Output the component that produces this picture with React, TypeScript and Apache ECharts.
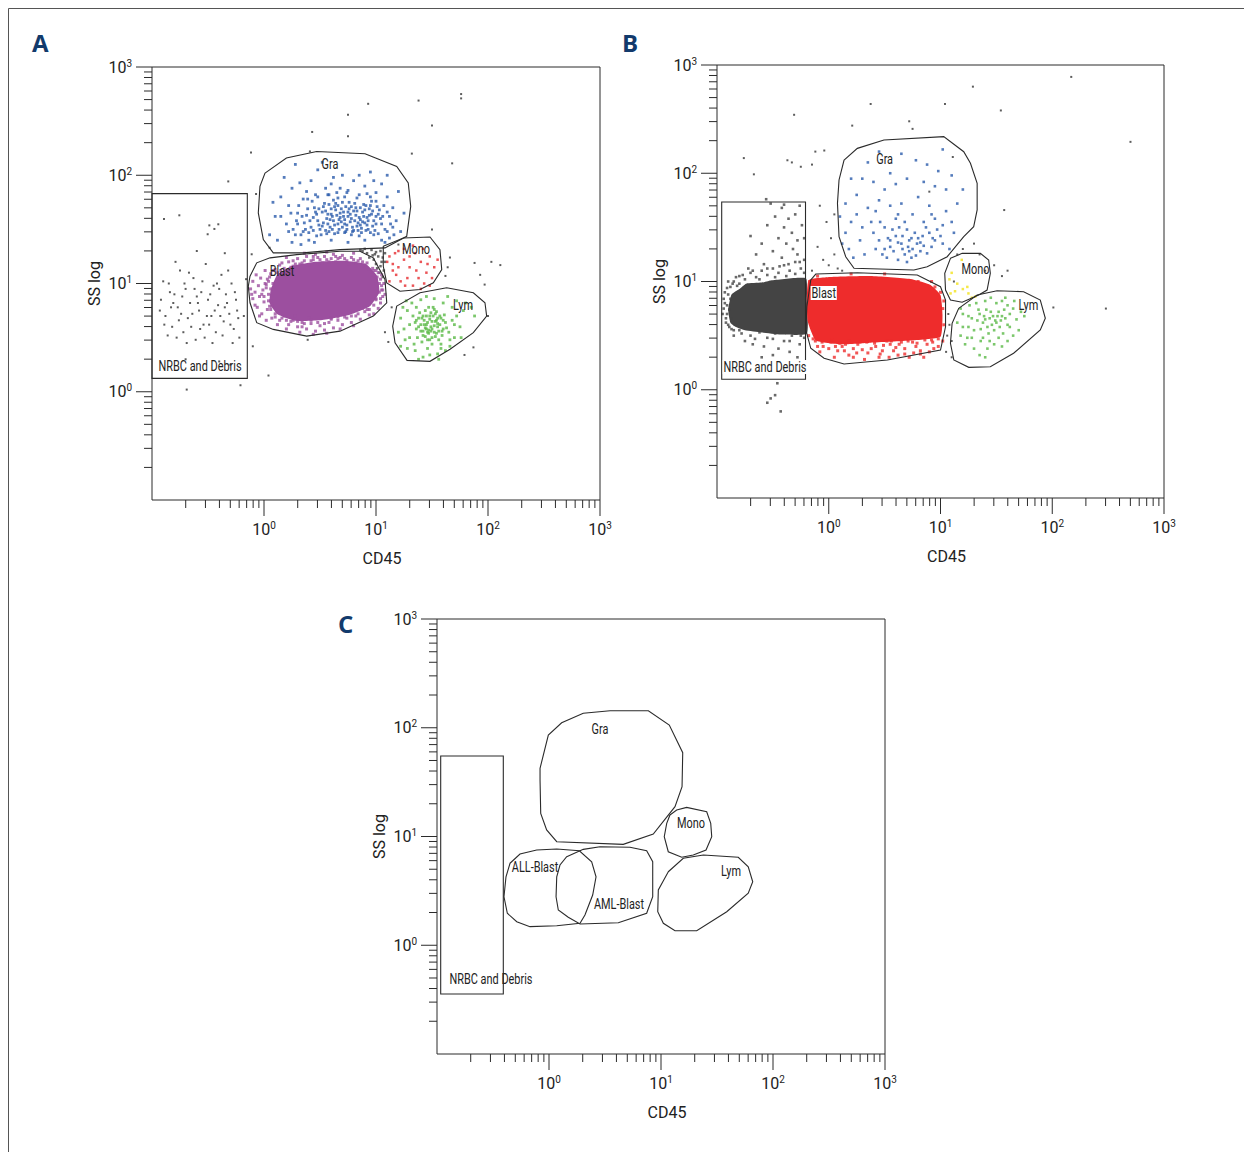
import React, { useEffect, useRef } from "react";
import * as echarts from "echarts";

const FONT = 'Roboto, "Liberation Sans", sans-serif';
const INK = "#2b2b2b";

const X_LABEL = "CD45";
const Y_LABEL = "SS log";
const PANEL_LETTERS = ["A", "B", "C"];
const AXIS_MIN = 0.1;
const AXIS_MAX = 1000;
const MAJOR_TICKS = [1, 10, 100, 1000];
const MINOR_TICKS = [0.2, 0.3, 0.4, 0.5, 0.6, 0.7, 0.8, 0.9, 2, 3, 4, 5, 6, 7, 8, 9, 20, 30, 40, 50, 60, 70, 80, 90, 200, 300, 400, 500, 600, 700, 800, 900];

// All coordinates below are log10(CD45), log10(SS) pairs.
// ---------- Panel A gates ----------
const A_GRA = [0.009,2.02, 0.20,2.16, 0.47,2.219, 0.902,2.198, 1.185,2.081, 1.288,1.928, 1.31,1.712, 1.274,1.436, 1.08,1.329, 0.857,1.32, 0.679,1.313, 0.348,1.283, 0.083,1.283, -0.006,1.406, -0.051,1.652, -0.036,1.897];
const A_BLAST = [-0.125,1.067, -0.065,1.191, 0.054,1.237, 0.292,1.267, 0.679,1.298, 0.857,1.298, 0.976,1.237, 1.08,1.037, 1.096,0.822, 0.976,0.699, 0.679,0.56, 0.381,0.514, 0.083,0.576, -0.065,0.638, -0.125,0.822, -0.14,0.975];
const A_MONO = [1.065,1.344, 1.244,1.421, 1.482,1.43, 1.571,1.313, 1.587,1.129, 1.512,1.006, 1.393,0.945, 1.214,0.929, 1.096,1.006, 1.065,1.159];
const A_LYM = [1.185,0.791, 1.393,0.914, 1.631,0.96, 1.869,0.914, 1.973,0.822, 1.988,0.699, 1.869,0.546, 1.661,0.392, 1.482,0.281, 1.277,0.29, 1.17,0.453, 1.149,0.606];
const A_NRBC = [-1,1.83, -0.149,1.83, -0.149,0.124, -1,0.124];

// ---------- Panel B gates ----------
const B_GRA = [0.137,2.122, 0.256,2.23, 0.494,2.307, 1.029,2.338, 1.208,2.199, 1.268,2.092, 1.328,1.907, 1.328,1.661, 1.297,1.506, 1.208,1.414, 1.06,1.229, 0.881,1.137, 0.762,1.106, 0.226,1.122, 0.152,1.229, 0.092,1.414, 0.078,1.722, 0.092,1.938];
const B_BLAST = [-0.116,1.069, 0.256,1.081, 0.792,1.06, 1.0,0.952, 1.045,0.829, 1.045,0.582, 1.0,0.367, 0.524,0.275, 0.137,0.238, -0.042,0.291, -0.161,0.383, -0.205,0.552, -0.196,0.767, -0.161,1.014];
const B_MONO = [1.089,1.214, 1.194,1.26, 1.357,1.26, 1.431,1.199, 1.446,1.076, 1.417,0.921, 1.342,0.875, 1.194,0.808, 1.089,0.829, 1.045,0.921, 1.038,1.076];
const B_LYM = [1.163,0.752, 1.328,0.875, 1.506,0.915, 1.744,0.906, 1.893,0.829, 1.938,0.66, 1.893,0.552, 1.654,0.337, 1.446,0.213, 1.253,0.207, 1.119,0.275, 1.089,0.429, 1.104,0.614];
const B_NRBC = [-0.958,1.734, -0.208,1.734, -0.208,0.097, -0.958,0.097];

// ---------- Panel C gates ----------
const C_GRA = [-0.08,1.627, -0.006,1.933, 0.113,2.046, 0.306,2.133, 0.545,2.157, 0.887,2.157, 1.074,2.025, 1.194,1.771, 1.188,1.458, 1.125,1.274, 0.931,1.023, 0.663,0.928, 0.069,0.952, -0.021,1.06, -0.074,1.213, -0.08,1.52];
const C_MONO = [1.08,1.198, 1.14,1.244, 1.229,1.268, 1.408,1.228, 1.444,1.121, 1.453,0.998, 1.402,0.876, 1.288,0.83, 1.185,0.809, 1.065,0.86, 1.029,0.998, 1.051,1.121];
const C_LYM = [1.065,0.676, 1.199,0.8, 1.378,0.83, 1.69,0.809, 1.779,0.722, 1.819,0.584, 1.779,0.478, 1.587,0.308, 1.319,0.134, 1.125,0.134, 1.021,0.202, 0.971,0.308, 0.976,0.508];
const C_ALL = [-0.348,0.754, -0.259,0.839, -0.11,0.876, 0.069,0.885, 0.271,0.869, 0.381,0.768, 0.42,0.63, 0.39,0.462, 0.321,0.278, 0.277,0.202, 0.069,0.18, -0.17,0.171, -0.288,0.217, -0.372,0.294, -0.402,0.446, -0.384,0.63];
const C_AML = [0.158,0.814, 0.306,0.882, 0.455,0.906, 0.723,0.901, 0.872,0.869, 0.926,0.768, 0.926,0.446, 0.872,0.294, 0.619,0.207, 0.277,0.195, 0.172,0.257, 0.083,0.324, 0.063,0.446, 0.069,0.63, 0.098,0.738];
const C_NRBC = [-0.967,1.74, -0.408,1.74, -0.408,-0.448, -0.967,-0.448];

// ---------- Gate labels: text, log x, log y, boxed ----------
const A_LABELS: [string, number, number, number][] = [["Gra", 0.589, 2.106, 0], ["Blast", 0.161, 1.12, 0], ["Mono", 1.357, 1.323, 0], ["Lym", 1.777, 0.806, 0], ["NRBC and Debris", -0.571, 0.235, 0]];
const B_LABELS: [string, number, number, number][] = [["Gra", 0.5, 2.132, 0], ["Blast", -0.045, 0.894, 1], ["Mono", 1.3125, 1.115, 0], ["Lym", 1.786, 0.783, 0], ["NRBC and Debris", -0.571, 0.21, 1]];
const C_LABELS: [string, number, number, number][] = [["Gra", 0.455, 1.989, 0], ["Mono", 1.268, 1.124, 0], ["Lym", 1.625, 0.683, 0], ["ALL-Blast", -0.125, 0.72, 0], ["AML-Blast", 0.625, 0.379, 0], ["NRBC and Debris", -0.518, -0.31, 0]];

// ---------- Dense population cores ----------
const A_BLAST_CORE = [0.06,0.94, 0.12,1.085, 0.245,1.16, 0.46,1.2, 0.72,1.21, 0.91,1.18, 1.01,1.07, 1.03,0.92, 0.945,0.79, 0.76,0.71, 0.5,0.66, 0.28,0.655, 0.12,0.715, 0.05,0.82];
const B_BLAST_CORE = [-0.179,1.014, 0.018,1.042, 0.375,1.051, 0.732,1.023, 0.911,0.968, 1.0,0.875, 1.018,0.69, 1.0,0.49, 0.732,0.455, 0.375,0.435, 0.107,0.42, -0.116,0.455, -0.188,0.63, -0.196,0.829];
const B_NRBC_CORE = [-0.9,0.74, -0.87,0.88, -0.8,0.93, -0.74,0.98, -0.6,0.99, -0.518,1.01, -0.205,1.03, -0.196,0.829, -0.196,0.52, -0.429,0.51, -0.6,0.53, -0.75,0.55, -0.83,0.58, -0.88,0.62];

// ---------- Events, panel A ----------
const A_GRA_EVENTS = [0.42,1.52, 0.48,1.58, 0.55,1.49, 0.61,1.62, 0.66,1.55, 0.72,1.47, 0.78,1.6, 0.83,1.53, 0.88,1.66, 0.93,1.5, 0.98,1.58, 1.02,1.46, 0.38,1.63, 0.45,1.7, 0.52,1.66, 0.58,1.73, 0.64,1.68, 0.7,1.75, 0.76,1.69, 0.81,1.74, 0.86,1.59, 0.91,1.72, 0.96,1.64, 1.05,1.55, 0.4,1.47, 0.47,1.44, 0.53,1.56, 0.59,1.52, 0.63,1.46, 0.68,1.61, 0.74,1.54, 0.79,1.48, 0.85,1.44, 0.9,1.56, 0.95,1.47, 1.0,1.62, 0.36,1.56, 0.44,1.61, 0.5,1.5, 0.57,1.64, 0.62,1.58, 0.67,1.5, 0.71,1.66, 0.77,1.57, 0.82,1.63, 0.87,1.51, 0.92,1.61, 0.97,1.53, 1.03,1.68, 0.43,1.76, 0.49,1.54, 0.56,1.6, 0.6,1.69, 0.65,1.63, 0.69,1.57, 0.73,1.71, 0.8,1.67, 0.84,1.56, 0.89,1.62, 0.94,1.69, 0.99,1.49, 1.04,1.6, 0.46,1.66, 0.54,1.74, 0.62,1.77, 0.7,1.52, 0.75,1.62, 0.78,1.45, 0.86,1.7, 0.92,1.54, 0.96,1.76, 0.51,1.45, 0.58,1.48, 0.66,1.72, 0.72,1.59, 0.84,1.49, 0.88,1.57, 1.01,1.71, 0.39,1.69, 0.55,1.67, 0.74,1.5, 0.81,1.58, 0.63,1.54, 0.68,1.65, 0.77,1.64, 0.59,1.59,
  0.41,1.58, 0.47,1.64, 0.53,1.71, 0.57,1.55, 0.61,1.5, 0.64,1.74, 0.67,1.59, 0.71,1.62, 0.73,1.48, 0.76,1.75, 0.79,1.52, 0.82,1.7, 0.85,1.61, 0.87,1.47, 0.9,1.68, 0.93,1.58, 0.95,1.72, 0.98,1.45, 1.0,1.55, 1.02,1.64, 0.44,1.49, 0.49,1.69, 0.52,1.53, 0.56,1.46, 0.6,1.64, 0.63,1.71, 0.66,1.47, 0.69,1.69, 0.72,1.55, 0.75,1.66, 0.78,1.71, 0.8,1.49, 0.83,1.67, 0.86,1.54, 0.89,1.73, 0.91,1.49, 0.94,1.63, 0.97,1.67, 1.06,1.62, 1.08,1.5, 0.37,1.5, 0.34,1.62, 0.31,1.72, 0.29,1.58, 0.26,1.5, 0.24,1.65, 0.33,1.45, 0.39,1.78, 0.48,1.8, 0.57,1.82, 0.66,1.79, 0.74,1.84, 0.83,1.79, 0.92,1.83, 1.0,1.76, 1.07,1.72, 1.1,1.66, 1.13,1.55, 1.16,1.45, 1.1,1.48,
  0.05,1.45, 0.1,1.62, 0.15,1.8, 0.12,1.4, 0.2,1.55, 0.22,1.72, 0.25,1.88, 0.28,1.45, 0.3,1.65, 0.32,1.93, 0.18,1.98, 0.35,1.78, 0.38,1.85, 0.42,1.95, 0.48,2.05, 0.55,1.88, 0.6,1.92, 0.65,1.84, 0.7,2.0, 0.75,1.86, 0.8,1.95, 0.85,1.82, 0.9,1.9, 0.95,2.03, 1.0,1.84, 1.05,1.92, 1.1,1.8, 1.15,1.7, 1.18,1.58, 1.22,1.48, 1.2,1.85, 1.25,1.65, 1.12,1.42, 1.08,1.38, 1.15,1.52, 0.25,1.38, 0.33,1.36, 0.45,1.38, 0.6,1.4, 0.75,1.38, 0.9,1.4, 1.05,1.4, 0.08,1.75, 0.28,2.1, 0.52,2.12, 0.62,1.98, 0.85,2.0, 1.1,2.0, 0.4,1.4, 0.58,1.82, 0.72,1.8, 0.95,1.8, 1.12,1.62, 0.3,1.55, 0.22,1.48, 0.35,1.48, 0.15,1.62, 0.98,1.95, 0.68,1.88, 0.46,1.82];
const A_BLAST_EVENTS = [-0.12,0.95, -0.1,1.02, -0.1,0.86, -0.08,0.92, -0.07,1.08, -0.06,0.78, -0.05,0.98, -0.04,0.88, -0.03,1.05, -0.02,0.72, -0.01,0.94, 0.0,0.83, 0.01,1.12, 0.02,0.99, 0.03,0.76, 0.04,0.9, 0.05,1.06, 0.06,0.84, 0.07,0.68, 0.08,1.0, 0.02,0.66, -0.08,0.8, 0.06,0.95, 0.08,1.12, -0.11,0.9, 0.04,1.02, 0.07,0.79, -0.04,0.7,
  0.1,1.13, 0.14,1.17, 0.18,1.14, 0.22,1.2, 0.26,1.16, 0.3,1.23, 0.34,1.19, 0.38,1.25, 0.42,1.21, 0.46,1.27, 0.5,1.22, 0.54,1.25, 0.58,1.2, 0.62,1.27, 0.66,1.23, 0.7,1.26, 0.74,1.21, 0.78,1.24, 0.82,1.19, 0.86,1.23, 0.9,1.17, 0.94,1.13, 0.28,1.18, 0.4,1.17, 0.52,1.19, 0.64,1.2, 0.76,1.18, 0.88,1.2, 0.36,1.28, 0.56,1.29, 0.8,1.28, 0.2,1.24,
  0.15,1.12, 0.24,1.15, 0.32,1.18, 0.44,1.22, 0.6,1.23, 0.68,1.24, 0.84,1.21, 0.92,1.19, 0.97,1.14, 0.48,1.24, 0.72,1.23, 0.12,1.1, 0.36,1.21, 0.56,1.22, 0.8,1.22, 0.26,1.21, 0.64,1.25, 0.44,1.25, 0.16,1.19, 0.88,1.16,
  0.98,1.12, 1.01,1.06, 1.03,1.0, 1.05,0.94, 1.06,0.88, 1.04,0.82, 1.02,0.77, 0.98,0.72, 1.07,1.0, 1.08,0.9, 0.96,1.08, 1.0,0.85, 1.03,0.92, 0.94,0.76, 1.05,1.08, 1.04,1.04, 1.05,0.98, 1.06,0.94, 1.02,1.1, 1.04,0.86, 1.0,1.12,
  0.1,0.72, 0.14,0.66, 0.18,0.7, 0.22,0.62, 0.26,0.66, 0.3,0.6, 0.34,0.64, 0.38,0.58, 0.42,0.63, 0.46,0.56, 0.5,0.61, 0.54,0.57, 0.58,0.64, 0.62,0.59, 0.66,0.66, 0.7,0.62, 0.74,0.68, 0.78,0.64, 0.82,0.7, 0.86,0.67, 0.9,0.74, 0.94,0.71, 0.2,0.58, 0.32,0.55, 0.44,0.53, 0.56,0.54, 0.68,0.58, 0.8,0.61, 0.12,0.62, 0.4,0.68, 0.6,0.68, 0.28,0.7,
  0.16,0.68, 0.24,0.65, 0.36,0.63, 0.48,0.64, 0.6,0.67, 0.72,0.69, 0.84,0.72, 0.92,0.76, 0.3,0.65, 0.54,0.63, 0.66,0.69, 0.78,0.7, 0.42,0.66, 0.2,0.66, 0.88,0.77, 0.98,0.8, 1.0,0.86, 0.06,0.76, 0.1,0.69, 0.34,0.6,
  0.0,0.88, 0.02,0.96, 0.04,0.84, 0.03,1.04, 0.06,1.09, 0.05,0.79, -0.02,0.9, 0.01,1.0];
const A_MONO_EVENTS = [1.12,1.25, 1.15,1.18, 1.2,1.3, 1.25,1.22, 1.3,1.15, 1.35,1.28, 1.4,1.2, 1.45,1.1, 1.48,1.25, 1.18,1.08, 1.22,1.02, 1.28,1.05, 1.33,0.98, 1.38,1.05, 1.43,1.0, 1.5,1.05, 1.15,1.12, 1.25,1.32, 1.42,1.32, 1.52,1.15, 1.1,1.2, 1.2,1.15, 1.3,1.25, 1.36,1.12, 1.46,1.18, 1.26,0.98, 1.4,0.95, 1.12,1.02, 1.33,1.35, 1.48,0.98, 1.17,1.28, 1.55,1.22];
const A_LYM_EVENTS = [1.4,0.62, 1.45,0.58, 1.5,0.65, 1.55,0.6, 1.48,0.7, 1.42,0.52, 1.52,0.55, 1.58,0.68, 1.38,0.68, 1.46,0.64, 1.53,0.72, 1.6,0.58, 1.44,0.75, 1.5,0.5, 1.36,0.58, 1.56,0.48, 1.62,0.64, 1.41,0.46, 1.49,0.6, 1.54,0.66, 1.47,0.54, 1.57,0.62, 1.39,0.73, 1.51,0.78, 1.43,0.66, 1.59,0.52, 1.35,0.64, 1.46,0.48, 1.61,0.71, 1.48,0.67, 1.52,0.61, 1.44,0.59, 1.56,0.56, 1.4,0.56, 1.54,0.74, 1.58,0.44, 1.42,0.7, 1.5,0.44, 1.47,0.78, 1.63,0.59, 1.37,0.5, 1.53,0.51, 1.45,0.7, 1.55,0.68, 1.49,0.56,
  1.43,0.62, 1.47,0.57, 1.51,0.7, 1.55,0.63, 1.59,0.56, 1.38,0.6, 1.44,0.51, 1.53,0.65, 1.49,0.73, 1.57,0.7, 1.41,0.68, 1.46,0.55, 1.5,0.58, 1.54,0.54, 1.45,0.62, 1.6,0.66, 1.36,0.66, 1.48,0.48, 1.52,0.76, 1.42,0.56,
  1.22,0.68, 1.25,0.58, 1.28,0.75, 1.3,0.5, 1.32,0.82, 1.28,0.4, 1.35,0.38, 1.4,0.85, 1.45,0.88, 1.52,0.86, 1.6,0.82, 1.68,0.78, 1.72,0.7, 1.75,0.6, 1.7,0.5, 1.66,0.42, 1.62,0.38, 1.55,0.35, 1.48,0.34, 1.42,0.32, 1.34,0.44, 1.26,0.48, 1.2,0.55, 1.24,0.78, 1.65,0.55, 1.68,0.66, 1.78,0.75, 1.8,0.82, 1.64,0.88, 1.58,0.4, 1.38,0.3, 1.3,0.62, 1.33,0.7, 1.66,0.48, 1.72,0.84, 1.85,0.78, 1.88,0.7, 1.76,0.5, 1.22,0.42, 1.27,0.84, 1.56,0.3, 1.46,0.4, 1.36,0.78, 1.7,0.62];
const A_NRBC_EVENTS = [-0.92,0.85, -0.88,0.7, -0.85,1.0, -0.82,0.6, -0.8,0.9, -0.77,0.78, -0.75,1.12, -0.72,0.55, -0.7,0.95, -0.68,0.68, -0.66,0.82, -0.63,1.05, -0.61,0.48, -0.58,0.75, -0.56,0.92, -0.54,0.62, -0.52,1.18, -0.5,0.85, -0.47,0.7, -0.45,0.98, -0.43,0.55, -0.41,0.8, -0.38,1.08, -0.36,0.65, -0.34,0.9, -0.31,0.72, -0.29,1.0, -0.27,0.58, -0.25,0.85, -0.23,0.68, -0.9,1.02, -0.86,0.52, -0.83,0.78, -0.79,1.2, -0.76,0.66, -0.73,0.88, -0.69,0.45, -0.67,1.1, -0.64,0.72, -0.6,0.88, -0.57,0.58, -0.55,1.02, -0.51,0.7, -0.48,0.9, -0.46,0.45, -0.44,0.75, -0.4,0.95, -0.37,0.52, -0.35,0.78, -0.32,1.12, -0.3,0.62, -0.26,0.92, -0.24,0.75, -0.22,0.5, -0.89,0.62, -0.84,0.92, -0.78,0.5, -0.74,0.72, -0.71,1.0, -0.65,0.6, -0.62,0.95, -0.59,0.82, -0.53,0.5, -0.49,0.62, -0.42,1.0, -0.39,0.7, -0.33,0.82, -0.28,0.45, -0.93,0.75, -0.81,0.82,
  -0.893,1.596, -0.756,1.63, -0.488,1.537, -0.443,1.504, -0.408,1.547, -0.503,1.455, -0.6,1.3, -0.35,1.28, -0.7,0.3, -0.4,0.28, -0.3,0.25];
const A_MIXED_EVENTS = [0.88,1.3, 0.92,1.28, 0.96,1.31, 1.0,1.29, 1.04,1.3, 0.94,1.24, 0.98,1.22, 1.02,1.25, 1.06,1.24, 1.0,1.18, 1.04,1.16, 1.08,1.2, 1.03,1.1, 1.07,1.12, 0.9,1.32, 0.97,1.26, 1.05,1.2, 1.01,1.14, 1.06,1.06, 0.99,1.27, 0.86,1.31, 1.08,1.28];
const A_STRAY_EVENTS = [0.75,2.56, 0.93,2.66, 1.38,2.69, 1.76,2.75, 1.76,2.71, 1.5,2.46, 0.43,2.4, 0.75,2.36, -0.116,2.21, -0.319,1.943, -0.071,1.827, 1.68,2.11, 0.41,2.22, 1.32,2.2, 1.5,1.5, 1.66,1.24, 1.64,1.15, 1.93,1.08, 1.97,0.99, 1.88,1.19, 2.03,1.2, 2.11,1.17, -0.1,0.42, 0.39,0.48, 1.11,0.46, -0.11,1.27, -0.16,1.04, 1.87,0.41, 1.79,0.34, 2.0,0.7, 1.08,0.55, -0.69,0.02, -0.21,0.06, 0.04,0.15, 1.2,1.36, 1.14,0.78, 1.62,1.07, 0.05,1.33, -0.18,0.7];

// ---------- Events, panel B ----------
const B_NRBC_EVENTS = [-0.93,0.8, -0.91,0.7, -0.9,0.88, -0.92,0.62, -0.88,0.95, -0.89,0.58, -0.94,0.75, -0.87,0.66,
  -0.95,0.7, -0.93,0.9, -0.91,0.78, -0.9,0.6, -0.88,0.84, -0.86,0.98, -0.92,0.66, -0.89,0.74, -0.87,0.56, -0.84,0.6, -0.82,0.96, -0.94,0.84, -0.91,0.94, -0.85,0.5, -0.8,0.98, -0.9,1.0, -0.83,1.04, -0.77,1.06, -0.68,1.1, -0.55,1.12, -0.44,1.14, -0.36,1.16, -0.26,1.18, -0.22,1.08, -0.3,1.07, -0.5,0.47, -0.35,0.45, -0.25,0.5, -0.66,0.47, -0.8,0.55,
  -0.85,1.0, -0.8,1.05, -0.75,1.02, -0.7,1.08, -0.65,1.04, -0.6,1.1, -0.55,1.06, -0.5,1.12, -0.45,1.08, -0.4,1.15, -0.35,1.1, -0.3,1.18, -0.25,1.12, -0.22,1.2, -0.72,1.12, -0.58,1.16, -0.42,1.22, -0.28,1.25, -0.62,1.02, -0.48,1.04, -0.38,1.05, -0.32,1.3,
  -0.6,1.35, -0.5,1.28, -0.45,1.4, -0.38,1.35, -0.33,1.45, -0.28,1.38, -0.24,1.52, -0.36,1.58, -0.3,1.62, -0.42,1.68, -0.26,1.7, -0.55,1.52, -0.48,1.6, -0.22,1.4, -0.7,1.42, -0.65,1.25, -0.4,1.5, -0.56,1.76, -0.4,1.71, -0.52,1.72,
  -0.85,0.55, -0.78,0.52, -0.7,0.5, -0.62,0.53, -0.55,0.48, -0.48,0.52, -0.4,0.45, -0.33,0.5, -0.26,0.42, -0.22,0.48, -0.75,0.45, -0.58,0.4, -0.45,0.38, -0.35,0.35, -0.28,0.3, -0.68,0.42, -0.5,0.32, -0.38,0.25, -0.3,0.2, -0.6,0.3,
  -0.52,-0.08, -0.43,-0.2, -0.46,0.06, -0.55,-0.12, -0.48,-0.05];
const B_BLAST_EVENTS = [-0.12,0.45, -0.05,0.4, 0.02,0.44, 0.08,0.36, 0.15,0.42, 0.22,0.38, 0.28,0.44, 0.35,0.34, 0.42,0.4, 0.48,0.36, 0.55,0.42, 0.62,0.32, 0.68,0.38, 0.75,0.44, 0.82,0.36, 0.88,0.42, 0.94,0.38, 0.05,0.3, 0.18,0.32, 0.32,0.28, 0.45,0.3, 0.58,0.36, 0.72,0.3, 0.85,0.3, -0.08,0.35, 0.12,0.4, 0.38,0.38, 0.52,0.45, 0.65,0.44, 0.78,0.4, 0.25,0.34, 0.92,0.46, 0.0,0.38,
  -0.14,0.47, -0.06,0.44, 0.03,0.46, 0.1,0.43, 0.18,0.45, 0.26,0.42, 0.34,0.44, 0.41,0.43, 0.49,0.41, 0.56,0.45, 0.63,0.42, 0.71,0.45, 0.79,0.43, 0.86,0.46, 0.93,0.44, 0.98,0.47, 0.14,0.36, 0.3,0.37, 0.46,0.33, 0.6,0.39, 0.76,0.34, 0.9,0.35, -0.1,0.4, 0.06,0.4, 0.22,0.3, 0.54,0.3, 0.68,0.33, 0.82,0.33,
  0.95,0.95, 1.0,0.9, 1.02,0.75, 1.03,0.6, 1.02,0.45, 0.98,0.4, 0.8,1.0, 0.5,1.07, 0.2,1.07, -0.1,1.05, 1.03,0.82, 0.92,1.0, -0.17,1.0, -0.18,0.5];
const B_GRA_EVENTS = [0.4,1.45, 0.45,1.38, 0.5,1.5, 0.55,1.32, 0.6,1.42, 0.65,1.35, 0.7,1.48, 0.75,1.3, 0.8,1.4, 0.85,1.33, 0.9,1.45, 0.95,1.38, 1.0,1.42, 0.42,1.3, 0.48,1.25, 0.53,1.4, 0.58,1.28, 0.63,1.5, 0.68,1.25, 0.72,1.38, 0.77,1.45, 0.82,1.28, 0.87,1.5, 0.92,1.32, 0.97,1.48, 1.02,1.35, 0.46,1.55, 0.52,1.22, 0.57,1.48, 0.62,1.36, 0.66,1.42, 0.71,1.32, 0.74,1.22, 0.79,1.35, 0.84,1.42, 0.88,1.26, 0.93,1.4, 0.62,1.2, 0.7,1.18, 0.78,1.24, 0.66,1.3, 0.74,1.4, 0.82,1.36, 0.55,1.38, 0.6,1.58, 0.68,1.55, 0.85,1.55, 0.95,1.58, 0.5,1.3, 0.72,1.28,
  0.15,1.45, 0.12,1.35, 0.2,1.55, 0.18,1.3, 0.25,1.62, 0.28,1.38, 0.3,1.5, 0.35,1.68, 0.38,1.55, 0.32,1.25, 0.22,1.22, 0.45,1.75, 0.55,1.7, 0.65,1.72, 0.75,1.62, 0.8,1.78, 0.9,1.7, 1.05,1.65, 1.1,1.55, 1.12,1.45, 1.08,1.3, 1.15,1.72, 1.05,1.85, 0.95,1.88, 0.6,1.9, 0.5,1.85, 0.4,1.92, 0.7,1.95, 0.85,1.92, 0.98,2.02, 0.55,2.0, 0.88,2.08, 0.35,2.1, 0.65,2.18, 0.45,2.2, 1.02,2.22, 1.1,1.98, 0.25,1.8, 0.15,1.72, 0.1,1.6, 0.3,1.95, 0.78,2.12, 0.2,1.95, 1.2,1.85, 0.42,1.65, 0.62,1.62, 0.92,1.62, 1.02,1.52];
const B_MONO_EVENTS = [1.1,1.08, 1.19,1.2, 1.25,0.89, 1.13,0.91, 1.24,0.95, 1.28,0.85, 1.31,0.86, 1.09,0.89, 1.15,0.98, 1.2,0.93, 1.08,1.02];
const B_LYM_EVENTS = [1.35,0.7, 1.4,0.65, 1.45,0.72, 1.5,0.62, 1.55,0.68, 1.6,0.6, 1.42,0.58, 1.48,0.55, 1.38,0.62, 1.52,0.72, 1.58,0.66, 1.44,0.66, 1.62,0.7, 1.36,0.56, 1.47,0.68, 1.53,0.58, 1.41,0.74, 1.56,0.52, 1.49,0.64, 1.39,0.68, 1.46,0.6, 1.54,0.64, 1.43,0.52, 1.51,0.68, 1.57,0.74, 1.33,0.64,
  1.15,0.62, 1.18,0.5, 1.2,0.7, 1.22,0.42, 1.25,0.58, 1.26,0.78, 1.28,0.48, 1.3,0.38, 1.32,0.8, 1.25,0.68, 1.36,0.45, 1.4,0.82, 1.45,0.85, 1.5,0.8, 1.55,0.82, 1.6,0.78, 1.65,0.75, 1.68,0.65, 1.7,0.55, 1.65,0.5, 1.6,0.45, 1.55,0.4, 1.48,0.42, 1.42,0.38, 1.35,0.32, 1.3,0.55, 1.2,0.58, 1.72,0.72, 1.38,0.48, 1.62,0.58, 1.52,0.48, 1.44,0.45, 1.28,0.66, 1.18,0.75, 1.34,0.74, 1.66,0.82, 1.24,0.48, 1.58,0.85, 1.75,0.68, 1.4,0.3];
const B_STRAY_EVENTS = [-0.76,2.14, -0.67,1.99, -0.31,2.54, -0.37,2.12, -0.33,2.1, -0.25,2.06, -0.15,2.08, -0.12,2.2, 0.21,2.44, 0.375,2.64, 0.72,2.48, 0.75,2.41, 1.04,2.64, 1.29,2.8, 1.54,2.58, 2.17,2.89, 2.7,2.29, 1.57,1.66, 2.01,0.76, 2.48,0.75, 0.9,1.83, 1.11,2.15, -0.04,2.21,
  -0.05,1.2, 0.0,1.15, 0.05,1.25, -0.1,1.32, 0.02,1.4, -0.15,1.1, 0.08,1.12, 0.12,1.1, -0.02,1.55, 0.05,1.62, -0.08,1.7, 1.08,0.6, 1.06,0.5, 1.1,0.45, 1.07,0.7, 1.12,1.0, 1.15,1.25, 1.3,1.35, 1.4,1.1, 1.48,1.15, 1.05,0.35, 1.1,0.3, 1.2,1.3, 1.35,1.25, 1.55,1.05, 1.6,1.1];

// ---------- colours ----------
const C_PURPLE = "#9c4f9f";
const C_BLUE = "#2b5bab";
const C_RED_A = "#e62a2e";
const C_RED_B = "#ee2c2c";
const C_GREEN = "#5ab946";
const C_YELLOW = "#f2e21a";
const C_DARK = "#444444";
const C_STRAY = "#333333";

const toPts = (flat: number[]) => {
  const out: number[][] = [];
  for (let i = 0; i < flat.length; i += 2) out.push([Math.pow(10, flat[i]), Math.pow(10, flat[i + 1])]);
  return out;
};

const TICK_DATA = [
  ...MINOR_TICKS.map((v) => [v, 1]),
  ...MAJOR_TICKS.map((v) => [v, 2]),
  ...MINOR_TICKS.map((v) => [v, 3]),
  ...MAJOR_TICKS.map((v) => [v, 4]),
];

type Cloud = { pts: number[]; color: string; size: number };
type Core = { pts: number[]; color: string };

function panelSeries(gi: number, gates: number[][], labels: [string, number, number, number][], cores: Core[], clouds: Cloud[]) {
  const base = { xAxisIndex: gi, yAxisIndex: gi, silent: true };
  const series: any[] = [];
  if (cores.length) {
    series.push({
      ...base, type: "custom", z: 1, data: [[1, 1]],
      renderItem: (_p: any, api: any) => ({
        type: "group",
        children: cores.map((c) => ({
          type: "polygon",
          shape: { points: toPts(c.pts).map((q) => api.coord(q)), smooth: 0.15 },
          style: { fill: c.color },
        })),
      }),
    });
  }
  clouds.forEach((c) => {
    series.push({
      ...base, type: "scatter", z: 2, symbol: "rect", symbolSize: c.size,
      itemStyle: { color: c.color }, data: toPts(c.pts),
    });
  });
  series.push({
    ...base, type: "custom", z: 3, data: [[1, 1]],
    renderItem: (_p: any, api: any) => ({
      type: "group",
      children: gates.map((g) => ({
        type: "polygon",
        shape: { points: toPts(g).map((q) => api.coord(q)) },
        style: { fill: "none", stroke: INK, lineWidth: 1.1 },
      })),
    }),
  });
  series.push({
    ...base, type: "custom", z: 4, data: [[1, 1]],
    renderItem: (_p: any, api: any) => ({
      type: "group",
      children: labels.map(([t, lx, ly, boxed]) => {
        const p = api.coord([Math.pow(10, lx), Math.pow(10, ly)]);
        return {
          type: "text", x: p[0], y: p[1], scaleX: 0.78,
          style: {
            text: t, fontSize: 14, fontFamily: FONT, fill: "#222",
            align: "center", verticalAlign: "middle",
            backgroundColor: boxed ? "#ffffff" : undefined,
            padding: boxed ? [0, 1] : 0,
          },
        };
      }),
    }),
  });
  series.push({
    ...base, type: "custom", z: 5, data: TICK_DATA,
    renderItem: (_p: any, api: any) => {
      const v = api.value(0);
      const k = api.value(1);
      if (k <= 2) {
        const p = api.coord([v, AXIS_MIN]);
        const len = k === 2 ? 16 : 8;
        return { type: "line", shape: { x1: p[0], y1: p[1], x2: p[0], y2: p[1] + len }, style: { stroke: INK, lineWidth: 1 } };
      }
      const p = api.coord([AXIS_MIN, v]);
      const len = k === 4 ? 16 : 8;
      return { type: "line", shape: { x1: p[0] - len, y1: p[1], x2: p[0], y2: p[1] }, style: { stroke: INK, lineWidth: 1 } };
    },
  });
  return series;
}

const labelFmt = (v: number) => {
  const e = Math.round(Math.log10(v));
  if (e < 0) return "";
  return `{b|10}{s|${e}}`;
};
const RICH = {
  b: { fontSize: 16, fontFamily: FONT, color: "#222", lineHeight: 18 },
  s: { fontSize: 10, fontFamily: FONT, color: "#222", verticalAlign: "top", lineHeight: 18 },
};

function makeAxis(gi: number, dir: "x" | "y") {
  return {
    type: "log", logBase: 10, gridIndex: gi, min: AXIS_MIN, max: AXIS_MAX,
    axisLine: { show: false }, axisTick: { show: false }, splitLine: { show: false },
    axisLabel: { margin: 20, formatter: labelFmt, rich: RICH, showMinLabel: false },
    name: dir === "x" ? X_LABEL : Y_LABEL,
    nameLocation: "middle", nameGap: 50,
    nameTextStyle: { fontSize: 16, fontFamily: FONT, color: "#222", padding: dir === "x" ? [0, 0, 0, 12] : 0 },
  };
}

export default function App() {
  const ref = useRef<HTMLDivElement>(null);
  useEffect(() => {
    if (!ref.current) return;
    const chart = echarts.init(ref.current, undefined, { renderer: "svg" });
    const gridBase = { show: true, borderColor: INK, borderWidth: 1, backgroundColor: "transparent", containLabel: false };
    const LETTER_STYLE = { fontSize: 24, fontWeight: "bold", fontFamily: "Open Sans, Liberation Sans, sans-serif", fill: "#123a6c" };
    const option: any = {
      animation: false,
      backgroundColor: "#ffffff",
      grid: [
        { ...gridBase, left: 152, top: 67, width: 448, height: 433 },
        { ...gridBase, left: 717, top: 65, width: 447, height: 433 },
        { ...gridBase, left: 437, top: 619, width: 448, height: 435 },
      ],
      xAxis: [makeAxis(0, "x"), makeAxis(1, "x"), makeAxis(2, "x")],
      yAxis: [makeAxis(0, "y"), makeAxis(1, "y"), makeAxis(2, "y")],
      graphic: [
        { type: "rect", silent: true, shape: { x: 8.5, y: 8.5, width: 1400, height: 1400 }, style: { fill: "none", stroke: "#555", lineWidth: 1 } },
        { type: "text", x: 32, y: 30, style: { ...LETTER_STYLE, text: PANEL_LETTERS[0] } },
        { type: "text", x: 622, y: 30, style: { ...LETTER_STYLE, text: PANEL_LETTERS[1] } },
        { type: "text", x: 338, y: 611, style: { ...LETTER_STYLE, text: PANEL_LETTERS[2] } },
      ],
      series: [
        ...panelSeries(0, [A_GRA, A_BLAST, A_MONO, A_LYM, A_NRBC], A_LABELS,
          [{ pts: A_BLAST_CORE, color: C_PURPLE }],
          [
            { pts: A_STRAY_EVENTS, color: C_STRAY, size: 2 },
            { pts: A_NRBC_EVENTS, color: C_STRAY, size: 2 },
            { pts: A_MIXED_EVENTS, color: C_DARK, size: 2.5 },
            { pts: A_BLAST_EVENTS, color: C_PURPLE, size: 3 },
            { pts: A_GRA_EVENTS, color: C_BLUE, size: 2.8 },
            { pts: A_MONO_EVENTS, color: C_RED_A, size: 2.5 },
            { pts: A_LYM_EVENTS, color: C_GREEN, size: 2.8 },
          ]),
        ...panelSeries(1, [B_GRA, B_BLAST, B_MONO, B_LYM, B_NRBC], B_LABELS,
          [{ pts: B_NRBC_CORE, color: C_DARK }, { pts: B_BLAST_CORE, color: C_RED_B }],
          [
            { pts: B_STRAY_EVENTS, color: C_STRAY, size: 2 },
            { pts: B_NRBC_EVENTS, color: C_DARK, size: 2.6 },
            { pts: B_BLAST_EVENTS, color: C_RED_B, size: 3 },
            { pts: B_GRA_EVENTS, color: C_BLUE, size: 2.6 },
            { pts: B_MONO_EVENTS, color: C_YELLOW, size: 2.5 },
            { pts: B_LYM_EVENTS, color: C_GREEN, size: 2.6 },
          ]),
        ...panelSeries(2, [C_GRA, C_MONO, C_LYM, C_ALL, C_AML, C_NRBC], C_LABELS, [], []),
      ],
    };
    chart.setOption(option);
    return () => chart.dispose();
  }, []);
  return <div ref={ref} style={{ position: "absolute", left: 0, top: 0, width: 1244, height: 1152 }} />;
}
